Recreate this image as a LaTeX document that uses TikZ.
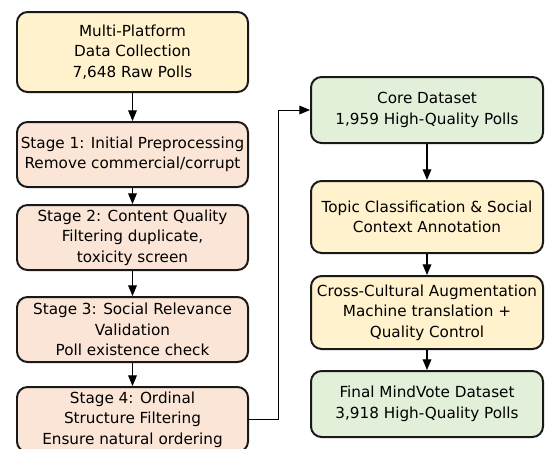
\documentclass[tikz,border=0pt]{standalone}
\usepackage{fontspec}
\setmainfont{DejaVu Sans}
\usetikzlibrary{arrows.meta}
\definecolor{rawyellow}{HTML}{FFF2CC}
\definecolor{stagepink}{HTML}{FBE5D6}
\definecolor{setgreen}{HTML}{E2F0D9}
\begin{document}
\begin{tikzpicture}[
  box/.style={draw=black!90,line width=1.7pt,rounded corners=9pt,align=center,inner sep=0pt,
    font=\fontsize{13}{17.5}\selectfont},
  lbox/.style={box,minimum width=6.93cm},
  rbox/.style={box,minimum width=6.96cm},
  flow/.style={-{Triangle[length=3.2mm,width=2.6mm]},line width=1.1pt}
]
\useasboundingbox (0,0) rectangle (16.35,-13.44);
% filtering pipeline
\node[lbox,fill=rawyellow,minimum height=2.4cm] (raw) at (3.975,-1.56) {Multi-Platform\\Data Collection\\7,648 Raw Polls};
\node[lbox,fill=stagepink,minimum height=1.95cm] (s1) at (3.975,-4.635) {Stage 1: Initial Preprocessing\\Remove commercial/corrupt};
\node[lbox,fill=stagepink,minimum height=1.95cm] (s2) at (3.975,-7.125) {Stage 2: Content Quality\\Filtering duplicate,\\toxicity screen};
\node[lbox,fill=stagepink,minimum height=1.95cm] (s3) at (3.975,-9.885) {Stage 3: Social Relevance\\Validation\\Poll existence check};
\node[lbox,fill=stagepink,minimum height=1.95cm] (s4) at (3.975,-12.585) {Stage 4: Ordinal\\Structure Filtering\\Ensure natural ordering};
% annotation and augmentation
\node[rbox,fill=setgreen,minimum height=1.98cm] (core) at (12.81,-3.3) {Core Dataset\\1,959 High-Quality Polls};
\node[rbox,fill=rawyellow,minimum height=2.16cm] (topic) at (12.81,-6.51) {Topic Classification \& Social\\Context Annotation};
\node[rbox,fill=rawyellow,minimum height=2.19cm] (aug) at (12.81,-9.375) {Cross-Cultural Augmentation\\Machine translation +\\Quality Control};
\node[rbox,fill=setgreen,minimum height=1.98cm] (final) at (12.81,-12.12) {Final MindVote Dataset\\3,918 High-Quality Polls};
\draw[flow] (raw) -- (s1);
\draw[flow] (s1) -- (s2);
\draw[flow] (s2) -- (s3);
\draw[flow] (s3) -- (s4);
\draw[flow,line width=0.8pt] (s4.east) -- ++(0.87,0) |- (core.west);
\draw[flow] (core) -- (topic);
\draw[flow] (topic) -- (aug);
\draw[flow] (aug) -- (final);
\end{tikzpicture}
\end{document}
